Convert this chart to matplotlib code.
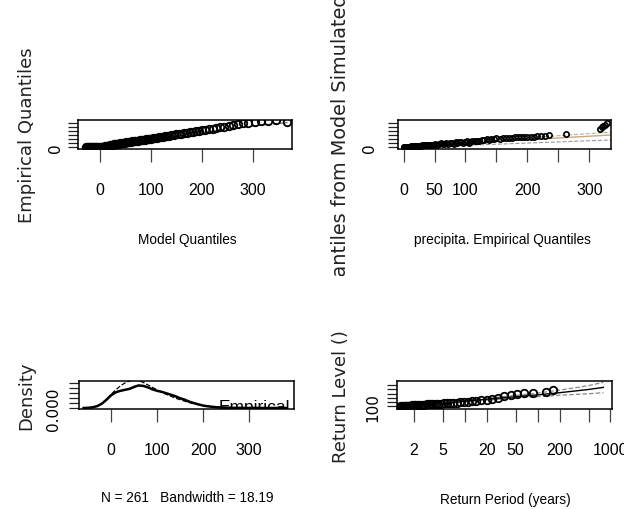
import numpy as np
import matplotlib
matplotlib.use('Agg')
import matplotlib.pyplot as plt
from matplotlib.transforms import Bbox, TransformedBbox

# panel 1: model quantiles vs empirical quantiles
model_q = [-26, -24, -22, -20, -18, -16, -14, -12, -10, -8, -6, -4, -2, 0, 2, 4, 6, 8, 10, 12, 14,
           16, 18, 20, 22, 24, 26, 28, 30, 32, 34, 36, 38, 40, 43, 46, 49, 52, 55, 58, 61, 64, 67,
           70, 73, 76, 79, 82, 85, 88, 91, 94, 97, 100, 104, 108, 112, 116, 120, 124, 128, 132,
           136, 140, 145, 150, 155, 160, 165, 170, 176, 182, 188, 194, 200, 207, 214, 221, 228,
           236, 244, 252, 261, 270, 280, 291, 303, 316, 330, 345, 367]
emp_q = [0, 0, 0, 0, 0, 0, 0, 0, 1, 1, 1, 2, 2, 3, 3, 4, 5, 6, 8, 10, 12,
         14, 17, 20, 23, 26, 29, 32, 35, 37, 39, 41, 43, 45, 48, 51, 54, 57, 60, 63, 66, 69, 72,
         75, 78, 81, 84, 87, 90, 93, 97, 100, 103, 106, 110, 114, 118, 122, 126, 130, 134, 139,
         143, 147, 152, 157, 162, 167, 172, 178, 184, 190, 196, 203, 209, 216, 223, 230, 236,
         245, 255, 265, 275, 285, 295, 305, 315, 322, 328, 332, 318]
ci1_x = [-26, 50, 100, 150, 200, 250, 300, 367]
ci1_lo = [-10, 45, 92, 138, 182, 222, 262, 305]
ci1_hi = [12, 70, 122, 176, 232, 292, 350, 420]

# panel 2: empirical quantiles vs quantiles from model simulated data
emp2 = [0, 1, 2, 3, 4, 6, 7, 9, 10, 12, 13, 15, 16, 18, 20, 22, 24, 26, 28, 30, 33, 35, 38, 40,
        43, 46, 48, 51, 54, 57, 60, 63, 66, 69, 72, 75, 78, 81, 84, 87, 90, 93, 96, 99, 102, 105,
        108, 111, 115, 118, 122, 126, 130, 134, 138, 142, 146, 150, 155, 160, 165, 170, 175, 180,
        185, 190, 195, 200, 205, 210, 215, 222, 228, 235, 262, 318, 320, 322, 325, 328]
sim2 = [0, 1, 1, 2, 3, 4, 5, 6, 6, 7, 8, 9, 10, 11, 12, 13, 15, 16, 18, 19, 22, 20, 25, 24,
        30, 22, 28, 38, 30, 35, 45, 32, 40, 52, 38, 48, 56, 42, 60, 50, 58, 66, 48, 62, 70, 55,
        66, 75, 70, 80, 78, 90, 85, 95, 92, 100, 98, 108, 105, 112, 110, 118, 115, 122, 120, 125,
        122, 128, 130, 126, 135, 138, 140, 145, 160, 220, 250, 265, 280, 300]
reg2_x = [0, 335]
reg2_y = [2, 150]
ci2_x = [0, 335]
ci2_lo = [-8, 88]
ci2_hi = [10, 185]

# panel 3: density, empirical vs modeled
dens_x = [-60, -50, -40, -30, -20, -10, 0, 10, 20, 30, 40, 50, 60, 70, 80, 90, 100, 110, 120, 130,
          140, 150, 160, 170, 180, 190, 200, 210, 220, 230, 240, 260, 280, 300, 320, 340, 360, 380]
dens_emp = [0.0, 0.05, 0.15, 0.4, 0.9, 1.7, 2.6, 3.2, 3.5, 3.7, 3.9, 4.3, 4.6, 4.5, 4.2, 3.8, 3.5,
            3.3, 3.0, 2.7, 2.4, 2.0, 1.7, 1.3, 1.0, 0.75, 0.5, 0.35, 0.25, 0.15, 0.1, 0.05, 0.03,
            0.02, 0.02, 0.01, 0.0, 0.0]
dens_mod = [0.0, 0.02, 0.1, 0.35, 0.9, 1.8, 2.8, 3.7, 4.5, 5.1, 5.5, 5.7, 5.6, 5.2, 4.7, 4.2, 3.7,
            3.2, 2.8, 2.4, 2.0, 1.7, 1.4, 1.1, 0.85, 0.65, 0.5, 0.38, 0.28, 0.2, 0.15, 0.08, 0.04,
            0.02, 0.01, 0.005, 0.0, 0.0]

# panel 4: return level plot
rp_curve = [1.2, 1.5, 2, 3, 5, 10, 20, 50, 100, 200, 500, 800]
rl_curve = [85, 100, 112, 122, 135, 160, 185, 215, 236, 262, 300, 325]
rl_upper = [90, 105, 118, 130, 142, 168, 196, 230, 258, 292, 345, 385]
rl_lower = [80, 95, 106, 115, 128, 150, 174, 200, 216, 232, 250, 262]
rp_pts = [1.2, 1.22, 1.25, 1.28, 1.3, 1.33, 1.36, 1.4, 1.45, 1.5, 1.55, 1.6, 1.65, 1.7, 1.8, 1.9,
          2.0, 2.1, 2.2, 2.35, 2.5, 2.65, 2.8, 3.0, 3.2, 3.45, 3.7, 4.0, 4.35, 4.75, 5.2, 5.7, 6.3,
          7.0, 7.8, 8.7, 9.8, 11, 12.5, 14.5, 17, 20, 24, 29, 35, 43, 52, 65, 87, 131, 165]
rl_pts = [88, 90, 92, 94, 96, 98, 100, 101, 102, 104, 105, 106, 107, 108, 110, 112,
          113, 115, 117, 118, 120, 121, 123, 124, 126, 127, 129, 130, 132, 134, 136, 138, 140,
          142, 145, 148, 152, 156, 160, 166, 172, 180, 190, 205, 220, 232, 245, 255, 262, 270, 290]

narrow = ['Liberation Sans', 'DejaVu Sans']
wide = ['DejaVu Sans']

W, H = 624, 510
fig = plt.figure(figsize=(6.24, 5.10), dpi=100)


def box(x0, y0, x1, y1):
    # pixel box (top-left origin) -> axes rect
    return [x0 / W, 1 - y1 / H, (x1 - x0) / W, (y1 - y0) / H]


def style(ax, xt, xl, yt, yl, ypad):
    for s in ax.spines.values():
        s.set_linewidth(1.1)
    ax.set_xticks(xt)
    ax.set_xticklabels(xl, fontfamily=narrow, fontsize=11.5)
    ax.set_yticks(yt)
    ax.set_yticklabels(yl, fontfamily=wide, fontsize=11, rotation=90, va='center')
    ax.tick_params(axis='x', length=9.5, width=0.9, color='#444444', pad=14)
    ax.tick_params(axis='y', length=7, width=0.9, color='#222222', pad=ypad)


ax1 = fig.add_axes(box(78, 121, 292, 150))
ax2 = fig.add_axes(box(398, 121, 611, 150))
ax3 = fig.add_axes(box(79, 382, 294, 410))
ax4 = fig.add_axes(box(397, 382, 612, 410))

pt = dict(ls='none', marker='o', mfc='none', mec='black', ms=5.4, mew=1.3)

# panel 1
ax1.plot(ci1_x, ci1_lo, ls='--', color='#555555', lw=0.8)
ax1.plot(ci1_x, ci1_hi, ls='--', color='#555555', lw=0.8)
ax1.plot(model_q, emp_q, **pt)
ax1.set_xlim(-42, 376)
ax1.set_ylim(-25, 337)
style(ax1, [0, 100, 200, 300], ['0', '100', '200', '300'],
      [0, 50, 100, 150, 200, 250, 300], ['0', '', '', '', '', '', ''], 4)

# panel 2
ax2.plot(reg2_x, reg2_y, color='#c8a882', lw=1.0)
ax2.plot(ci2_x, ci2_lo, ls='--', color='#999999', lw=0.8)
ax2.plot(ci2_x, ci2_hi, ls='--', color='#a8b890', lw=0.8)
ax2.plot(emp2, sim2, **dict(pt, ms=3.8, mew=1.2))
ax2.set_xlim(-9, 335)
ax2.set_ylim(-25, 337)
style(ax2, [0, 50, 100, 150, 200, 250, 300], ['0', '50', '100', '', '200', '', '300'],
      [0, 50, 100, 150, 200, 250, 300], ['0', '', '', '', '', '', ''], 8)

# panel 3
ax3.plot(dens_x, np.array(dens_emp) / 1000, color='black', lw=1.8)
ax3.plot(dens_x, np.array(dens_mod) / 1000, color='black', lw=0.9, ls='--')
ax3.set_xlim(-70, 398)
ax3.set_ylim(-0.0002, 0.0055)
ax3.text(390, 0.0019, 'Empirical', ha='right', va='top', fontsize=12.5,
         fontfamily=narrow, clip_on=True)
style(ax3, [0, 100, 200, 300], ['0', '100', '200', '300'],
      [0, 0.001, 0.002, 0.003, 0.004, 0.005], ['0.000', '', '', '', '', ''], 6)

# panel 4
ax4.set_xscale('log')
ax4.plot(rp_curve, rl_upper, ls='--', color='#888888', lw=0.9)
ax4.plot(rp_curve, rl_lower, ls='--', color='#888888', lw=0.9)
ax4.plot(rp_curve, rl_curve, color='black', lw=1.0)
ax4.plot(rp_pts, rl_pts, **pt)
ax4.set_xlim(1.18, 1050)
ax4.set_ylim(70, 400)
ax4.minorticks_off()
style(ax4, [2, 5, 10, 20, 50, 100, 200, 500, 1000],
      ['2', '5', '', '20', '50', '', '200', '', '1000'],
      [100, 150, 200, 250, 300, 350], ['100', '', '', '', '', ''], 5)

# axis titles
lab = dict(ha='center', va='center', fontsize=9.8, fontfamily=narrow)
fig.text(187 / W, 1 - 240 / H, 'Model Quantiles', **lab)
fig.text(502 / W, 1 - 240 / H, 'precipita. Empirical Quantiles', **lab)
fig.text(187 / W, 1 - 498 / H, 'N = 261   Bandwidth = 18.19', **lab)
fig.text(505 / W, 1 - 500 / H, 'Return Period (years)', **lab)

ylab = dict(rotation=90, ha='center', va='center', fontsize=13, fontfamily=wide, color='#222222')
fig.text(27 / W, 1 - 135 / H, 'Empirical Quantiles', **ylab)
t = fig.text(340 / W, 1 - 123 / H, 'Quantiles from Model Simulated Data', **dict(ylab, fontsize=13.9))
t.set_clip_box(TransformedBbox(Bbox([[0, 1 - 277 / H], [1, 1]]), fig.transFigure))
t.set_clip_on(True)
fig.text(26 / W, 1 - 396 / H, 'Density', **ylab)
fig.text(341 / W, 1 - 397 / H, 'Return Level ()', **ylab)

fig.savefig('out.png', dpi=100)
